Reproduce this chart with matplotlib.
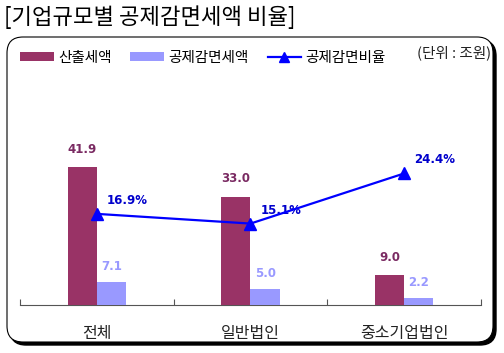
import numpy as np
import matplotlib
matplotlib.use('Agg')
import matplotlib.pyplot as plt
from matplotlib.patches import FancyBboxPatch, Patch
from matplotlib.lines import Line2D
from matplotlib.transforms import IdentityTransform

plt.rcParams['font.family'] = ['Noto Sans CJK KR', 'DejaVu Sans']

# 데이터
categories = ['전체', '일반법인', '중소기업법인']
output_tax = [41.9, 33.0, 9.0]      # 산출세액
reduction_tax = [7.1, 5.0, 2.2]     # 공제감면세액
reduction_ratio = [16.9, 15.1, 24.4]  # 공제감면비율 (%)

W, H = 504, 353
fig = plt.figure(figsize=(W / 100, H / 100), dpi=100)

def fx(px):
    return px / W

def fy(py):
    return 1 - py / H

# 둥근 테두리 박스 + 그림자 (픽셀 좌표)
bx0, by0, bx1, by1 = 7, 37, 493, 342
shadow = FancyBboxPatch((bx0 + 3, H - by1 - 3), bx1 - bx0, by1 - by0,
                        boxstyle='round,pad=0,rounding_size=16',
                        transform=IdentityTransform(), facecolor='black',
                        edgecolor='black', lw=1, zorder=0)
box = FancyBboxPatch((bx0, H - by1), bx1 - bx0, by1 - by0,
                     boxstyle='round,pad=0,rounding_size=16',
                     transform=IdentityTransform(), facecolor='white',
                     edgecolor='black', lw=0.8, zorder=1)
fig.patches.extend([shadow, box])

fig.text(fx(4), fy(17), '[기업규모별 공제감면세액 비율]', fontsize=16,
         va='center', ha='left', color='black')

# 축 영역
left, right, bottom, top = 20, 481, 305, 140
ax = fig.add_axes([fx(left), fy(bottom), fx(right - left), (bottom - top) / H])
ax.set_zorder(2)
ax.patch.set_visible(False)

x = np.arange(len(categories))
bw = 0.19
red = '#993366'
lblue = '#9999ff'
ax.bar(x - bw / 2, output_tax, bw, color=red, zorder=3)
ax.bar(x + bw / 2, reduction_tax, bw, color=lblue, zorder=3)
ax.set_xlim(-0.5, 2.5)
ax.set_ylim(0, 50.2)

for i in range(len(categories)):
    ax.annotate('%.1f' % output_tax[i], (x[i] - bw / 2, output_tax[i]),
                xytext=(0, 8), textcoords='offset points', ha='center',
                va='bottom', fontsize=8.5, fontweight='bold', color='#7a2a62',
                family=['DejaVu Sans'])
    ax.annotate('%.1f' % reduction_tax[i], (x[i] + bw / 2, reduction_tax[i]),
                xytext=(0, 6), textcoords='offset points', ha='center',
                va='bottom', fontsize=8.5, fontweight='bold', color=lblue,
                family=['DejaVu Sans'])

for s in ['top', 'right', 'left']:
    ax.spines[s].set_visible(False)
ax.spines['bottom'].set_color('#555555')
ax.set_yticks([])
ax.set_xticks([-0.5, 0.5, 1.5, 2.5])
ax.set_xticklabels([])
ax.tick_params(axis='x', direction='in', length=4, color='#555555')
for i, c in enumerate(categories):
    ax.text(x[i], -0.17, c, transform=ax.get_xaxis_transform(), ha='center',
            va='center', fontsize=11.5, color='#222222')

ax2 = ax.twinx()
ax2.set_zorder(4)
ax2.patch.set_visible(False)
ax2.plot(x, reduction_ratio, color='#0000ff', lw=1.6, marker='^',
         markersize=8, zorder=5)
ax2.set_ylim(0, 30.6)
ax2.set_yticks([])
for s in ['top', 'right', 'left', 'bottom']:
    ax2.spines[s].set_visible(False)
for i in range(len(categories)):
    ax2.annotate('%.1f%%' % reduction_ratio[i], (x[i], reduction_ratio[i]),
                 xytext=(7, 5), textcoords='offset points', ha='left',
                 va='bottom', fontsize=8.5, fontweight='bold', color='#0000cc',
                 family=['DejaVu Sans'])

# 범례
handles = [Patch(facecolor=red, edgecolor='none'),
           Patch(facecolor=lblue, edgecolor='none'),
           Line2D([], [], color='#0000ff', lw=1.6, marker='^', markersize=7)]
labels = ['산출세액', '공제감면세액', '공제감면비율']
fig.legend(handles, labels, loc='center left',
           bbox_to_anchor=(fx(20), fy(58)), ncol=3, frameon=False,
           fontsize=10.5, handlelength=2.3, handleheight=0.6,
           handletextpad=0.3, columnspacing=1.3, borderpad=0,
           borderaxespad=0)
fig.text(fx(491), fy(53), '(단위 : 조원)', fontsize=10.5, ha='right',
         va='center', color='#222222')

fig.savefig('out.png', dpi=100)
